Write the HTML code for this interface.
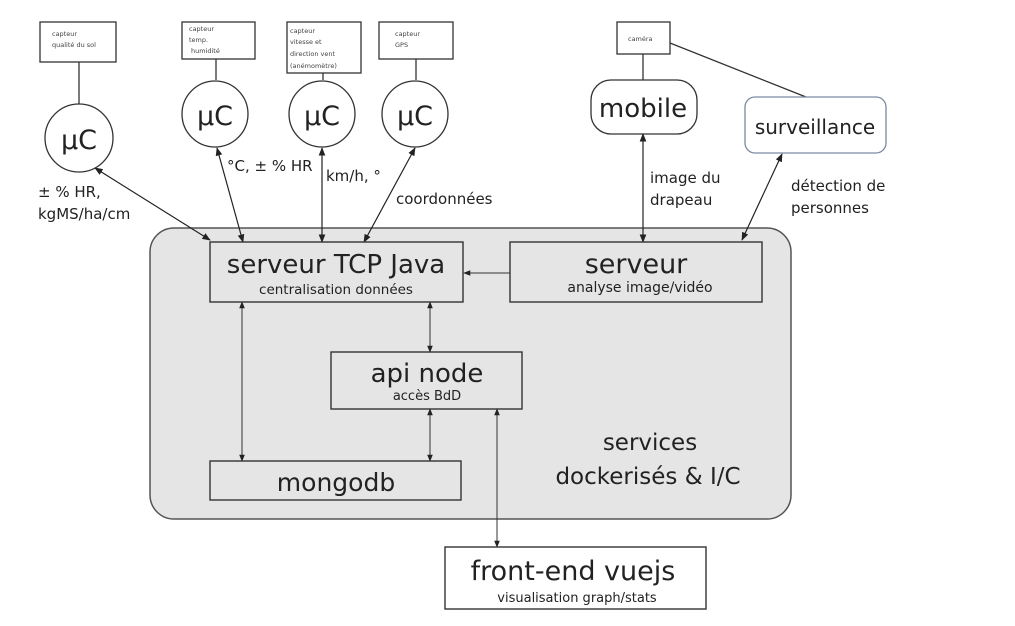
<!DOCTYPE html>
<html><head><meta charset="utf-8"><style>
html,body{margin:0;padding:0;background:#fff;}
svg{display:block;font-family:"DejaVu Sans","Liberation Sans",sans-serif;}
</style></head><body>
<svg width="1015" height="626" viewBox="0 0 1015 626" xmlns="http://www.w3.org/2000/svg">
<defs>
<marker id="a" viewBox="0 0 10 10" refX="9" refY="5" markerWidth="7" markerHeight="7" orient="auto-start-reverse"><path d="M0,1 L10,5 L0,9 z" fill="#222"/></marker>
</defs>
<rect x="150" y="228" width="641" height="291" rx="24" fill="#e5e5e5" stroke="#555" stroke-width="1.5"/>
<g fill="#fff" stroke="#333" stroke-width="1.3">
<rect x="40" y="22" width="76" height="40"/>
<rect x="182" y="22" width="73" height="37"/>
<rect x="287" y="22" width="74" height="51"/>
<rect x="379" y="22" width="74" height="37"/>
<rect x="617" y="22" width="53" height="32"/>
</g>
<g font-size="6.5" fill="#444">
<text x="52" y="36">capteur</text><text x="52" y="47">qualité du sol</text>
<text x="189" y="31">capteur</text><text x="189" y="42">temp.</text><text x="191" y="53">humidité</text>
<text x="290" y="33">capteur</text><text x="290" y="44">vitesse et</text><text x="290" y="56">direction vent</text><text x="290" y="68">(anémomètre)</text>
<text x="395" y="36">capteur</text><text x="395" y="47">GPS</text>
<text x="628" y="41">caméra</text>
</g>
<g stroke="#333" stroke-width="1.3" fill="none">
<line x1="79" y1="62" x2="79" y2="104"/>
<line x1="216" y1="59" x2="216" y2="80"/>
<line x1="323" y1="73" x2="323" y2="80"/>
<line x1="416" y1="59" x2="416" y2="80"/>
<line x1="643" y1="54" x2="643" y2="80"/>
<line x1="670" y1="43" x2="806" y2="97"/>
</g>
<g fill="#fff" stroke="#333" stroke-width="1.3">
<circle cx="79" cy="138" r="34"/>
<circle cx="215" cy="114" r="33"/>
<circle cx="322" cy="114" r="33"/>
<circle cx="415" cy="114" r="33"/>
<rect x="591" y="80" width="106" height="54" rx="20"/>
<rect x="745" y="97" width="141" height="56" rx="10" stroke="#7a8aa0"/>
</g>
<g font-size="27" fill="#222" text-anchor="middle">
<text x="79" y="149">μC</text><text x="215" y="125">μC</text><text x="322" y="125">μC</text><text x="415" y="125">μC</text>
</g>
<text x="643" y="117" font-size="26" text-anchor="middle" fill="#222">mobile</text>
<text x="815" y="134" font-size="20" text-anchor="middle" fill="#222">surveillance</text>
<g stroke="#222" stroke-width="1.2" fill="none" marker-start="url(#a)" marker-end="url(#a)">
<line x1="95" y1="168" x2="210" y2="240"/>
<line x1="217" y1="148" x2="243" y2="242"/>
<line x1="322" y1="148" x2="322" y2="242"/>
<line x1="415" y1="148" x2="364" y2="242"/>
<line x1="643" y1="134" x2="643" y2="242"/>
<line x1="782" y1="154" x2="742" y2="240"/>
</g>
<g font-size="15" fill="#222">
<text x="38" y="197">± % HR,</text><text x="38" y="219">kgMS/ha/cm</text>
<text x="227" y="171">°C, ± % HR</text>
<text x="326" y="181">km/h, °</text>
<text x="396" y="204">coordonnées</text>
<text x="650" y="183">image du</text><text x="650" y="205">drapeau</text>
<text x="791" y="191">détection de</text><text x="791" y="213">personnes</text>
</g>
<g fill="#e5e5e5" stroke="#333" stroke-width="1.4">
<rect x="210" y="242" width="253" height="60"/>
<rect x="510" y="242" width="252" height="60"/>
<rect x="331" y="352" width="191" height="57"/>
<rect x="210" y="461" width="251" height="39"/>
<rect x="445" y="547" width="261" height="62" fill="#fff"/>
</g>
<g fill="#222" text-anchor="middle">
<text x="336" y="273" font-size="26">serveur TCP Java</text>
<text x="336" y="294" font-size="13.5">centralisation données</text>
<text x="636" y="273" font-size="27">serveur</text>
<text x="640" y="292" font-size="14">analyse image/vidéo</text>
<text x="427" y="382" font-size="26">api node</text>
<text x="427" y="400" font-size="13">accès BdD</text>
<text x="336" y="491" font-size="25">mongodb</text>
<text x="573" y="580" font-size="27">front-end vuejs</text>
<text x="577" y="602" font-size="13">visualisation graph/stats</text>
<text x="650" y="450" font-size="23">services</text>
<text x="648" y="484" font-size="23">dockerisés &amp; I/C</text>
</g>
<g stroke="#333" stroke-width="1" fill="none">
<line x1="510" y1="273" x2="464" y2="273" marker-end="url(#a)"/>
<line x1="242" y1="302" x2="242" y2="461" marker-start="url(#a)" marker-end="url(#a)"/>
<line x1="430" y1="302" x2="430" y2="352" marker-start="url(#a)" marker-end="url(#a)"/>
<line x1="430" y1="409" x2="430" y2="461" marker-start="url(#a)" marker-end="url(#a)"/>
<line x1="497" y1="409" x2="497" y2="547" marker-start="url(#a)" marker-end="url(#a)"/>
</g>
</svg>
</body></html>
